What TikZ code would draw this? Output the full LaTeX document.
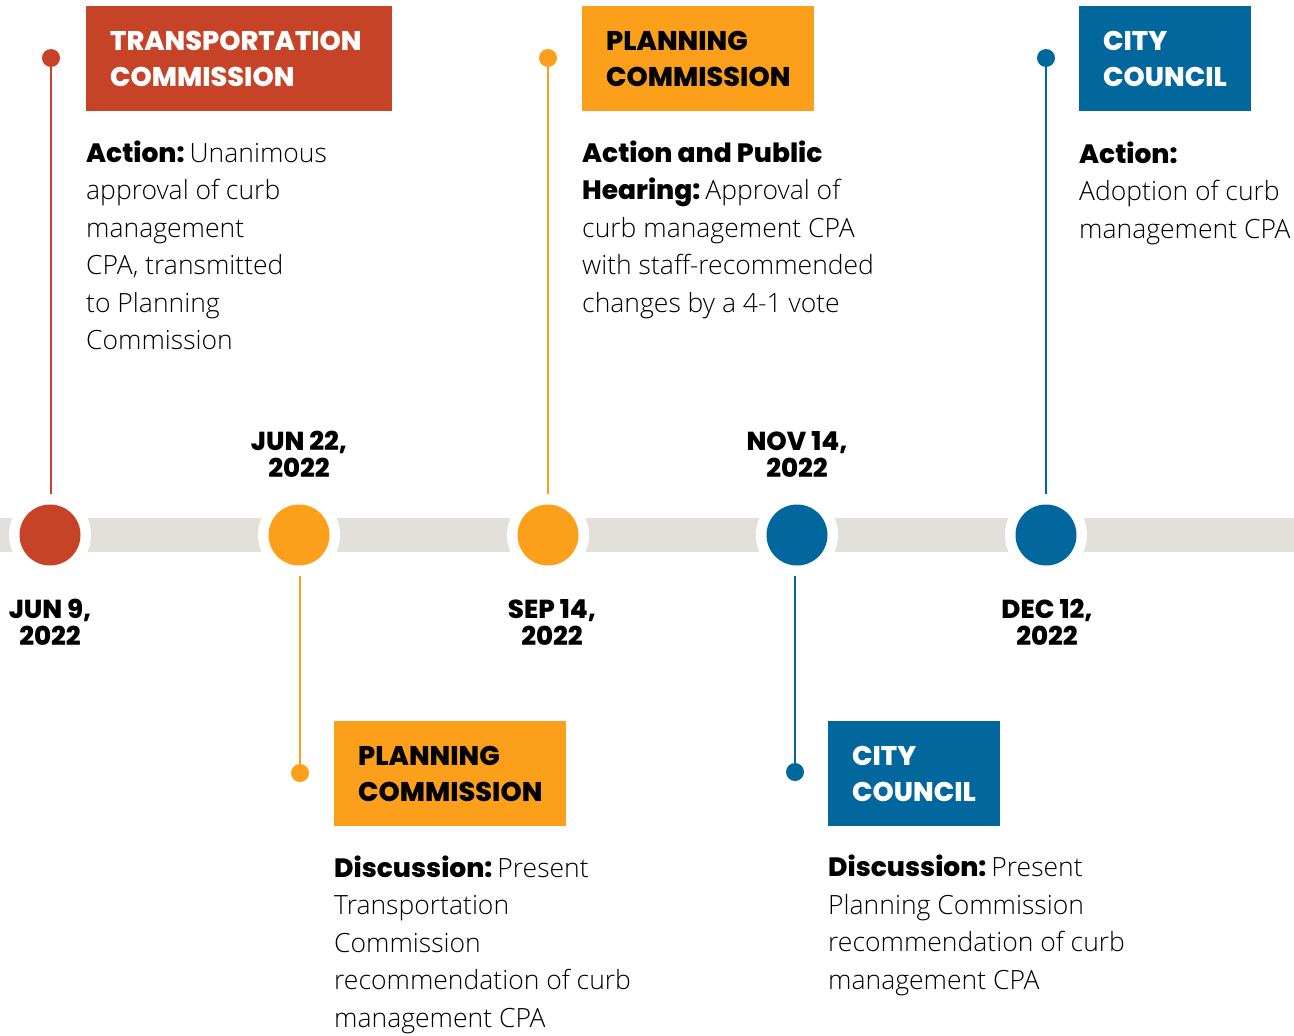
\documentclass[tikz,border=0pt]{standalone}
\usepackage{fontspec}
\setmainfont{Open Sans}[UprightFont=* Light]
\newfontfamily\heavy{Poppins}[UprightFont=* ExtraBold]

\definecolor{tcred}{HTML}{C74328}
\definecolor{pcorange}{HTML}{FCA01C}
\definecolor{ccblue}{HTML}{02679C}
\definecolor{railgray}{HTML}{E3E0DB}

% bold lead-in word(s) of a description
\newcommand{\lead}[1]{{\heavy #1}}
\newcommand{\leadsp}{\hspace{5pt}}

% multi-line nodes are placed by the baseline of their last line
\tikzset{
  halo/.style={circle, fill=white, minimum size=82pt, inner sep=0pt},
  stopdot/.style={circle, fill=#1, minimum size=61pt, inner sep=0pt},
  pin/.style={circle, fill=#1, minimum size=18pt, inner sep=0pt},
  stem/.style={draw=#1, line width=2.5pt},
  tag/.style={fill=#1, anchor=north west, inner sep=0pt, minimum height=105pt},
  tagtext/.style={anchor=base west, align=left, inner sep=0pt,
    font=\heavy\fontsize{27}{36}\selectfont},
  body/.style={anchor=base west, align=left, inner sep=0pt,
    font=\fontsize{26.5}{37.5}\selectfont},
  datelabel/.style={anchor=base, align=center, inner sep=0pt,
    font=\heavy\fontsize{26}{27}\selectfont},
}

\begin{document}
\begin{tikzpicture}[x=1pt,y=-1pt]
\useasboundingbox (0,0) rectangle (1294,1036);

% timeline rail
\fill[railgray] (0,518) rectangle (1294,552);

% stops on the rail
\foreach \n/\x in {1/50,2/299,3/548,4/797,5/1046}
  \node[halo] (ring\n) at (\x,535) {};
\node[stopdot=tcred]    (stop1) at (50,535) {};
\node[stopdot=pcorange] (stop2) at (299,535) {};
\node[stopdot=pcorange] (stop3) at (548,535) {};
\node[stopdot=ccblue]   (stop4) at (797,535) {};
\node[stopdot=ccblue]   (stop5) at (1046,535) {};

% dates
\node[datelabel] (date1) at (50,645)   {JUN 9,\\2022};
\node[datelabel] (date2) at (299,477)  {JUN 22,\\2022};
\node[datelabel] (date3) at (552,645)  {SEP 14,\\2022};
\node[datelabel] (date4) at (797,477)  {NOV 14,\\2022};
\node[datelabel] (date5) at (1047,645) {DEC 12,\\2022};

% pins and stems
\node[pin=tcred]    (pin1) at (51,58) {};
\node[pin=pcorange] (pin2) at (300,773) {};
\node[pin=pcorange] (pin3) at (548,58) {};
\node[pin=ccblue]   (pin4) at (795,772) {};
\node[pin=ccblue]   (pin5) at (1046,58) {};
\draw[stem=tcred]    (pin1.center) -- (pin1.center |- ring1.north);
\draw[stem=pcorange] (pin2.center) -- (pin2.center |- ring2.south);
\draw[stem=pcorange] (pin3.center) -- (pin3.center |- ring3.north);
\draw[stem=ccblue]   (pin4.center) -- (pin4.center |- ring4.south);
\draw[stem=ccblue]   (pin5.center) -- (pin5.center |- ring5.north);

% headings
\node[tag=tcred, minimum width=306pt]    (box1) at (86,6) {};
\node[tagtext, text=white] (head1) at (110,86) {TRANSPORTATION\\COMMISSION};
\node[tag=pcorange, minimum width=232pt] (box2) at (334,721) {};
\node[tagtext, text=black] (head2) at (358,801) {PLANNING\\COMMISSION};
\node[tag=pcorange, minimum width=232pt] (box3) at (582,6) {};
\node[tagtext, text=black] (head3) at (606,86) {PLANNING\\COMMISSION};
\node[tag=ccblue, minimum width=172pt]   (box4) at (828,721) {};
\node[tagtext, text=white] (head4) at (852,801) {CITY\\COUNCIL};
\node[tag=ccblue, minimum width=172pt]   (box5) at (1079,6) {};
\node[tagtext, text=white] (head5) at (1103,86) {CITY\\COUNCIL};

% descriptions
\node[body] (note1) at (86,349.5) {\lead{Action:}\leadsp Unanimous\\approval of curb\\management\\CPA, transmitted\\to Planning\\Commission};
\node[body] (note2) at (334,1027) {\lead{Discussion:}\leadsp Present\\Transportation\\Commission\\recommendation of curb\\management CPA};
\node[body] (note3) at (582,312) {\lead{Action and Public}\\\lead{Hearing:}\leadsp Approval of\\curb management CPA\\with staff-recommended\\changes by a 4-1 vote};
\node[body] (note4) at (828,989) {\lead{Discussion:}\leadsp Present\\Planning Commission\\recommendation of curb\\management CPA};
\node[body] (note5) at (1079,238) {\lead{Action:}\\Adoption of curb\\management CPA};
\end{tikzpicture}
\end{document}
